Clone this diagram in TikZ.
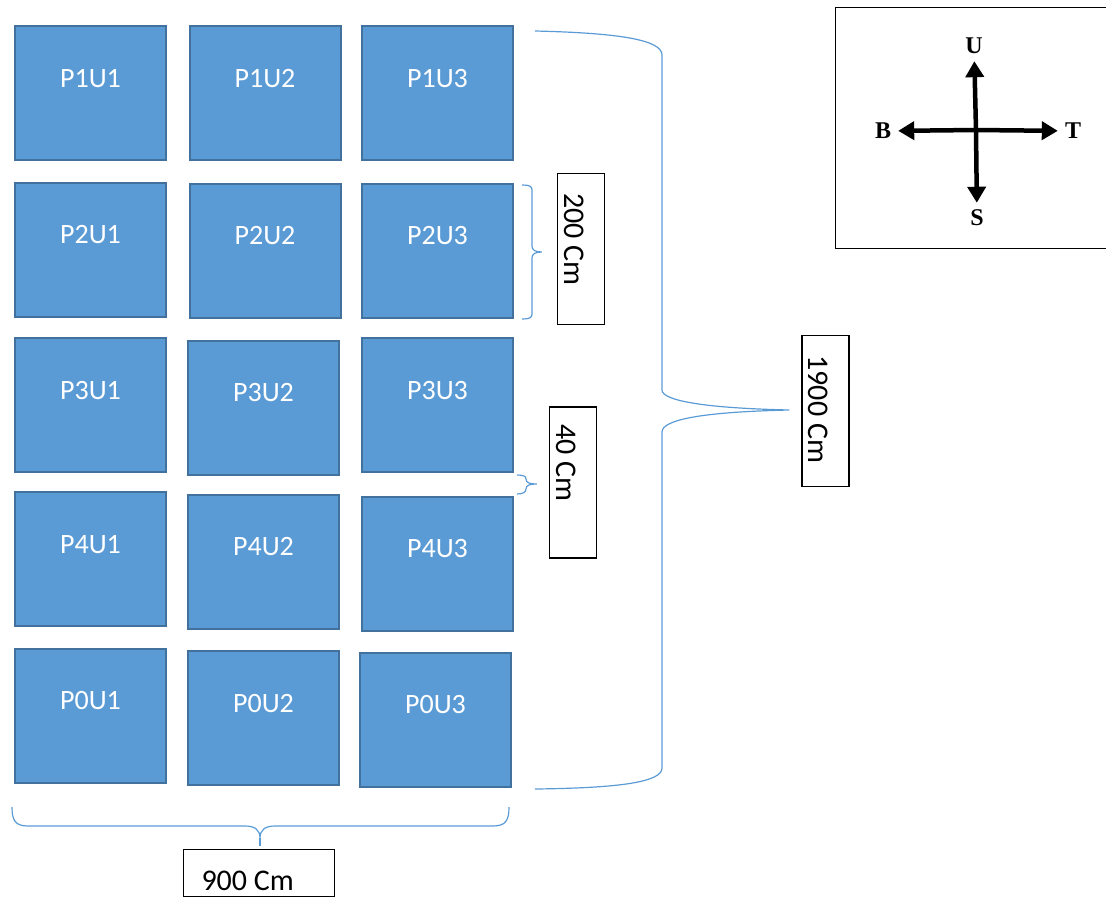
\documentclass[tikz,border=0pt]{standalone}
\usepackage{fontspec}
\setmainfont{Carlito}
\newfontfamily\compassfont{Liberation Serif}
\usetikzlibrary{arrows.meta,positioning,calc}
\definecolor{panelfill}{HTML}{5B9BD5}
\definecolor{paneledge}{HTML}{41719C}
\definecolor{bracecol}{HTML}{5B9BD5}
\newcommand{\dimtext}[2][111pt]{\makebox[#1][l]{#2}}

\tikzset{
    panel/.style={draw=paneledge, fill=panelfill, line width=2pt, inner sep=0pt,
        minimum width=151pt, minimum height=134pt, text=white,
        font=\fontsize{28}{28}\selectfont, text height=18pt, text depth=30pt},
    dimbox/.style={draw=black, fill=white, line width=1.2pt, inner xsep=20pt, inner ysep=4pt,
        minimum width=151pt, minimum height=47pt,
        font=\fontsize{30}{30}\selectfont, text height=34pt, text depth=0pt},
    bracepath/.style={draw=bracecol, line width=1.2pt},
    compasslbl/.style={inner sep=7pt, font=\compassfont\bfseries\fontsize{24}{24}\selectfont},
    compassarrow/.style={line width=4.5pt, -{Triangle[length=16pt,width=18pt]}, shorten <=-2pt}
}

\begin{document}
\begin{tikzpicture}[x=1pt, y=-1pt]
    \useasboundingbox (0,0) rectangle (1106,898);

    % Panels
    \foreach \pname/\px/\py in {P1U1/90.5/93, P1U2/265/93, P1U3/437.5/93,
        P2U1/90.5/249.5, P2U2/265/250.5, P2U3/437.5/250.5,
        P3U1/90.5/405, P3U2/263.5/407.5, P3U3/437.5/405,
        P4U1/90.5/559, P4U2/263.5/561.5, P4U3/437.5/563.5,
        P0U1/90.5/715.5, P0U2/263.5/718, P0U3/435.5/719.5} {
        \node[panel] (\pname) at (\px,\py) {\pname};
    }

    % Dimension labels
    \node[dimbox, rotate=-90] (dim200) at (581,249) {\dimtext{200 Cm}};
    \node[dimbox, rotate=-90, inner xsep=17pt] (dim40) at (573,482.5) {\dimtext[117pt]{40 Cm}};
    \node[dimbox, rotate=-90] (dim1900) at (825.5,411) {\dimtext{1900 Cm}};
    \node[dimbox, inner xsep=18pt] (dim900) at (259,873) {\dimtext[115pt]{900 Cm}};

    % Braces
    \coordinate (bigtop) at (535,31);
    \coordinate (bigbot) at (535,789);
    \coordinate (bigtip) at ($(dim1900.south)+(-12,-1)$);
    \draw[bracepath] (bigtop) .. controls (620,33) and (662,40) .. (662,55) -- (662,390)
        .. controls (662,400) and (700,408) .. (bigtip)
        .. controls (700,412) and (662,420) .. (662,432) -- (662,768)
        .. controls (662,782) and (620,788) .. (bigbot);

    \coordinate (tip200) at ($(dim200.south)+(-15,3)$);
    \draw[bracepath] (522,185) .. controls (529,185) and (532,186) .. (532,190) -- (532,246)
        .. controls (532,250) and (535,252) .. (tip200)
        .. controls (535,252) and (532,254) .. (532,258) -- (532,314)
        .. controls (532,318) and (529,319) .. (522,319);

    \coordinate (tip40) at ($(dim40.south)+(-12,1.5)$);
    \draw[bracepath] (517,475) .. controls (523,475) and (526,476) .. (526,479)
        .. controls (526,483) and (530,484) .. (tip40)
        .. controls (530,484) and (526,485) .. (526,489)
        .. controls (526,492) and (523,494) .. (517,494);

    \coordinate (tip900) at ($(dim900.north)+(1,-3)$);
    \draw[bracepath] (12,807) .. controls (12,820) and (15,826) .. (28,826) -- (245,826)
        .. controls (255,826) and (260,830) .. (260,838)
        .. controls (260,830) and (265,826) .. (275,826) -- (493,826)
        .. controls (506,826) and (509,820) .. (509,807);
    \draw[bracepath] (260,838) -- (tip900);

    % Compass
    \node[draw=black, line width=1.2pt, minimum width=275pt, minimum height=241pt,
        anchor=north west] (compass) at (835,7) {};
    \coordinate (ctr) at (976,130);
    \node[compasslbl] (lblU) at (974,46) {U};
    \node[compasslbl] (lblS) at (977,218) {S};
    \node[compasslbl] (lblB) at (883,131) {B};
    \node[compasslbl] (lblT) at (1073,131) {T};
    \foreach \lbl in {lblU,lblS,lblB,lblT} {
        \draw[compassarrow] (ctr) -- (\lbl);
    }
\end{tikzpicture}
\end{document}
